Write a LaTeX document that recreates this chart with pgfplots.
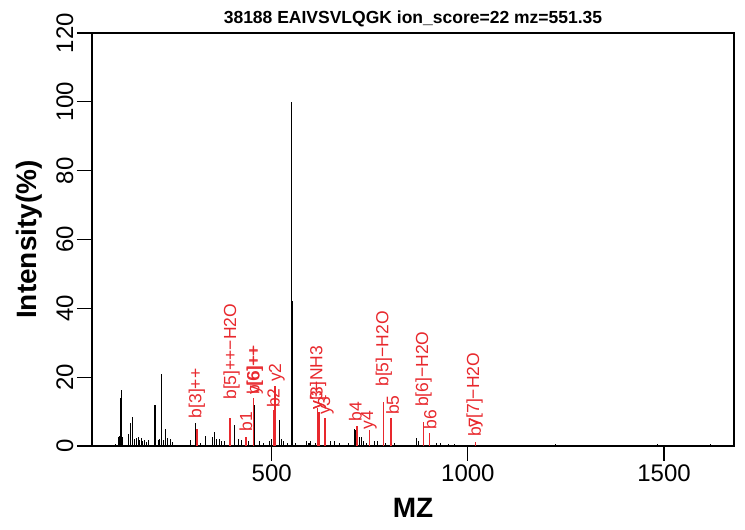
\documentclass[border=0pt]{standalone}
\usepackage{fontspec}
\setmainfont{Liberation Sans}
\usepackage{pgfplots}
\pgfplotsset{compat=1.18}
\definecolor{pkred}{RGB}{232,40,45}

\begin{document}
\begin{tikzpicture}
% page frame, 745 x 530
\path (-92pt,-84pt) rectangle (653pt,446pt);
\begin{axis}[
  at={(0pt,0pt)}, anchor=south west,
  scale only axis, width=642pt, height=413pt,
  xmin=41.9, xmax=1678.4, ymin=0, ymax=120,
  xtick={500,1000,1500}, ytick={0,20,...,120},
  tick pos=left, tick align=outside,
  major tick length=15pt,
  axis line style={line width=1.2pt},
  every tick/.style={black, line width=1.2pt},
  tick label style={font=\fontsize{24}{24}\selectfont},
  /pgf/number format/assume math mode=true,
  /pgf/number format/1000 sep={},
  yticklabel style={rotate=90, anchor=south},
  title={38188 EAIVSVLQGK ion\_score=22 mz=551.35},
  every axis title/.style={at={(axis description cs:0.5,1.0218)}, anchor=base,
    font=\bfseries\fontsize{17.5}{17.5}\selectfont},
  xlabel={MZ},
  every axis x label/.style={at={(axis description cs:0.5,-0.1743)}, anchor=base,
    font=\bfseries\fontsize{28}{28}\selectfont},
  ylabel={Intensity(\%)},
  every axis y label/.style={at={(axis description cs:-0.0857,0.5)}, rotate=90, anchor=base,
    font=\bfseries\fontsize{28}{28}\selectfont},
  clip=false,
]
% unassigned peaks
\addplot[ycomb, no marks, black, line width=1.1pt] coordinates {
  (102,0.5) (110,2.6) (112,3.0) (115,13.9) (117.6,16.3) (120,2.6)
  (135,3.5) (141,6.6) (145,8.3) (150,2.0) (156,2.2) (160,2.5) (164,1.7)
  (167,2.3) (171,1.5) (175,1.7) (181,1.2) (185,1.7) (202.5,11.9) (211,1.7)
  (215,2.0) (219.6,21.0) (224,1.7) (230,4.8) (235,2.3) (241,1.9) (247.6,1.3)
  (292,1.7) (306,6.8) (318,1.0) (332,3.0) (350,2.5) (355,4.0) (360,2.0)
  (366,2.0) (372,1.5) (380,1.5) (405,6.0) (415,2.0) (423,1.7) (440,1.5)
  (456,12.0) (470,1.5) (480,1.0) (495,1.5) (500,2.0) (519,7.6) (525,2.0)
  (530,1.5) (540,1.0) (551.35,100) (552.3,42) (560,1.0) (589,1.5) (595,1.0)
  (600,1.5) (612,1.0) (650,1.5) (660,1.5) (672,1.0) (695,1.0) (710,5.0)
  (714,4.6) (724,2.5) (730,2.7) (734,1.5) (742,1.0) (762,1.5) (770,1.5)
  (790,1.0) (812,1.0) (870,2.3) (875,1.5) (920,1.0) (930,1.0) (950,0.7)
  (965,0.7) (1223,0.5) (1483,0.5) (1618,0.5)
};
% assigned fragment ions
\addplot[ycomb, no marks, pkred, line width=1.5pt] coordinates {
  (310,5.0) (394,8.0) (434,2.7) (453,14.0) (505,10.5) (509,17.5)
  (617,11.0) (620,10.0) (636,8.0) (717,5.8) (749,4.6) (785,12.9)
  (804,8.0) (887,7.0) (902,3.7) (1019,1.3)
};
\begin{scope}[every node/.style={rotate=90, anchor=west, inner sep=0pt,
    text=pkred, font=\fontsize{17.5}{17.5}\selectfont}]
\node at (axis cs:309,8.0) {b[3]++};
\node at (axis cs:398,13.4) {b[5]++−H2O};
\node at (axis cs:434,4.2) {b1};
\node at (axis cs:457,14.8) {b[6]++};
\node at (axis cs:457,14.8) {y[6]++};
\node at (axis cs:504,11.0) {b2};
\node at (axis cs:513,18.6) {y2};
\node at (axis cs:618,10.5) {y3−NH3};
\node at (axis cs:618,10.5) {y[3]};
\node at (axis cs:638,9.0) {y3};
\node at (axis cs:713,7.1) {b4};
\node at (axis cs:748,4.7) {y4};
\node at (axis cs:786,17.2) {b[5]−H2O};
\node at (axis cs:808,9.0) {b5};
\node at (axis cs:887,11.3) {b[6]−H2O};
\node at (axis cs:904,4.7) {b6};
\node at (axis cs:1017,2.6) {b7};
\node at (axis cs:1017,5.4) {y[7]−H2O};
\end{scope}
\end{axis}
\end{tikzpicture}
\end{document}
